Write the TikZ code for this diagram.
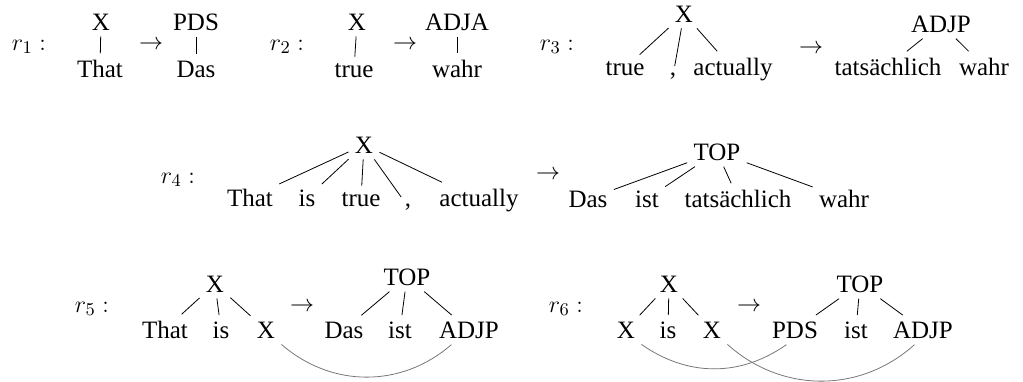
\documentclass[tikz,border=0pt]{standalone}
\usepackage{fontspec}
\setmainfont{Liberation Serif}
\usepackage{tikz}
\usetikzlibrary{arrows.meta,positioning}
\definecolor{ruleLink}{HTML}{777777}

\begin{document}
\begin{tikzpicture}[
  x=0.5pt, y=-0.5pt,
  font=\fontsize{12.5}{15}\selectfont,
  tnode/.style={anchor=base, inner sep=3pt},
  rname/.style={anchor=base, inner sep=0pt},
  maps/.style={anchor=base, inner sep=0pt},
  br/.style={line width=0.4pt},
  link/.style={line width=0.4pt, color=ruleLink}
]
\useasboundingbox (0,0) rectangle (1023,381);

% r1 .. r3
\node[rname] (r1) at (29,50) {$r_1:$};
\node[tnode] (x1) at (101,30) {X};
\node[tnode] (that1) at (100,77) {That};
\node[maps] (to1) at (151,49) {$\rightarrow$};
\node[tnode] (pds1) at (196,30) {PDS};
\node[tnode] (das1) at (196,77) {Das};
\draw[br] (x1) -- (that1);
\draw[br] (pds1) -- (das1);

\node[rname] (r2) at (287,50) {$r_2:$};
\node[tnode] (x2) at (357,30) {X};
\node[tnode] (true2) at (354,77) {true};
\node[maps] (to2) at (405,49) {$\rightarrow$};
\node[tnode] (adja2) at (457,30) {ADJA};
\node[tnode] (wahr2) at (457,77) {wahr};
\draw[br] (x2) -- (true2);
\draw[br] (adja2) -- (wahr2);

\node[rname] (r3) at (557,50) {$r_3:$};
\node[tnode] (x3) at (684,22) {X};
\node[tnode] (true3) at (625,75) {true};
\node[tnode] (comma3) at (673,75) {,};
\node[tnode] (actually3) at (733,75) {actually};
\node[maps] (to3) at (811,53) {$\rightarrow$};
\node[tnode] (adjp3) at (941,32) {ADJP};
\node[tnode] (tats3) at (888,75) {tatsächlich};
\node[tnode] (wahr3) at (984,75) {wahr};
\draw[br] (x3) -- (true3);
\draw[br] (x3) -- (comma3);
\draw[br] (x3) -- (actually3);
\draw[br] (adjp3) -- (tats3);
\draw[br] (adjp3) -- (wahr3);

% r4
\node[rname] (r4) at (178,183) {$r_4:$};
\node[tnode] (x4) at (364,153) {X};
\node[tnode] (that4) at (250,206) {That};
\node[tnode] (is4) at (307,206) {is};
\node[tnode] (true4) at (361,206) {true};
\node[tnode] (comma4) at (408,206) {,};
\node[tnode] (actually4) at (479,206) {actually};
\node[maps] (to4) at (548,179) {$\rightarrow$};
\node[tnode] (top4) at (717,160) {TOP};
\node[tnode] (das4) at (588,207) {Das};
\node[tnode] (ist4) at (647,207) {ist};
\node[tnode] (tats4) at (738,207) {tatsächlich};
\node[tnode] (wahr4) at (844,207) {wahr};
\foreach \c in {that4,is4,true4,comma4,actually4}
  \draw[br] (x4) -- (\c);
\foreach \c in {das4,ist4,tats4,wahr4}
  \draw[br] (top4) -- (\c);

% r5, r6
\node[rname] (r5) at (92,312) {$r_5:$};
\node[tnode] (x5) at (215,292) {X};
\node[tnode] (that5) at (165,338) {That};
\node[tnode] (is5) at (221,338) {is};
\node[tnode] (xl5) at (266,338) {X};
\node[maps] (to5) at (302,311) {$\rightarrow$};
\node[tnode] (top5) at (407,285) {TOP};
\node[tnode] (das5) at (344,338) {Das};
\node[tnode] (ist5) at (400,338) {ist};
\node[tnode] (adjp5) at (469,338) {ADJP};
\foreach \c in {that5,is5,xl5}
  \draw[br] (x5) -- (\c);
\foreach \c in {das5,ist5,adjp5}
  \draw[br] (top5) -- (\c);
\draw[link] (xl5.south east) to[out=-41,in=-139] (adjp5.220);

\node[rname] (r6) at (566,312) {$r_6:$};
\node[tnode] (x6) at (669,292) {X};
\node[tnode] (xa6) at (626,338) {X};
\node[tnode] (is6) at (668,338) {is};
\node[tnode] (xb6) at (712,338) {X};
\node[maps] (to6) at (749,311) {$\rightarrow$};
\node[tnode] (top6) at (860,292) {TOP};
\node[tnode] (pds6) at (795,338) {PDS};
\node[tnode] (ist6) at (856,338) {ist};
\node[tnode] (adjp6) at (923,338) {ADJP};
\foreach \c in {xa6,is6,xb6}
  \draw[br] (x6) -- (\c);
\foreach \c in {pds6,ist6,adjp6}
  \draw[br] (top6) -- (\c);
\draw[link] (xa6.south east) to[out=-35,in=-145] (pds6.240);
\draw[link] (xb6.south east) to[out=-42,in=-138] (adjp6.240);
\end{tikzpicture}
\end{document}
